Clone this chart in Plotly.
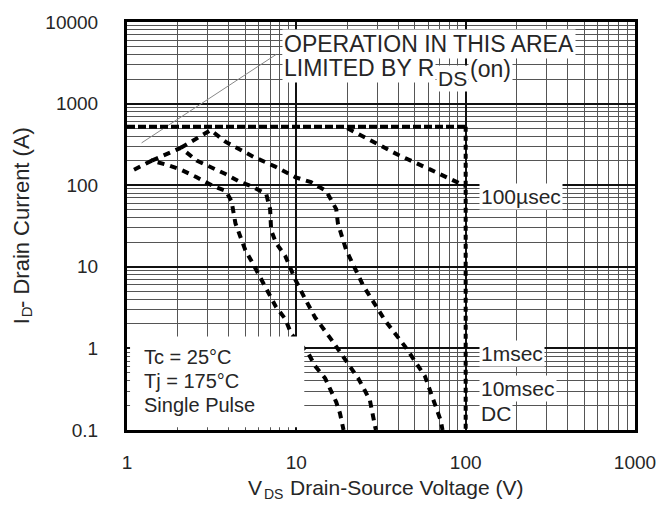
import plotly.graph_objects as go

# ---- tick labels ----
x_ticks = [1, 10, 100, 1000]
x_tick_text = ["1", "10", "100", "1000"]
y_ticks = [0.1, 1, 10, 100, 1000, 10000]
y_tick_text = ["0.1", "1", "10", "100", "1000", "10000"]

# ---- boundary: package / RDS(on) limit and max VDS ----
limit_h_v = [1, 100]
limit_h_i = [520, 520]
limit_v_v = [100, 100]
limit_v_i = [520, 0.1]

# ---- RDS(on) guide line ----
rds_v = [1.22, 7.6]
rds_i = [330, 4000]

# ---- pulse curves ----
us100_v = [20, 39.8, 62, 100]
us100_i = [500, 236, 155, 97]

curve_a_v = [1.1, 1.4, 1.72, 2.08, 2.58, 3.25, 3.83, 4.14, 4.37, 4.68, 5.0, 5.43,
             5.82, 6.4, 7.0, 7.6, 8.6, 9.35, 11.8, 12.9, 14.8, 16.1, 17.2, 18.1, 18.9, 19.0]
curve_a_i = [155, 200, 178, 155, 125, 97, 85, 64, 34, 23.6, 16, 11.8,
             9, 6.4, 4.5, 3.2, 2.3, 1.5, 0.86, 0.61, 0.43, 0.30, 0.22, 0.16, 0.11, 0.1]

curve_b_v = [1.4, 2.08, 2.58, 3.16, 3.82, 4.68, 5.43, 6.64, 7.0, 7.1, 7.6, 8.6,
             9.35, 9.85, 11.3, 12.9, 16.1, 18.4, 20.2, 23.2, 25.5, 27.2, 29.2, 29.5]
curve_b_i = [200, 287, 200, 165, 137, 109, 97, 78, 51, 28, 19.5, 13.6,
             9.2, 7, 4, 2.4, 1.28, 0.86, 0.66, 0.43, 0.30, 0.23, 0.11, 0.1]

curve_c_v = [2.08, 3.12, 3.83, 4.43, 5.58, 7.5, 9.9, 12.2, 15, 17.2, 17.6, 19.7,
             24.8, 33.4, 43.8, 57.4, 71.3, 73]
curve_c_i = [287, 473, 339, 287, 223, 169, 125, 109, 85, 51, 34, 16,
             5.9, 2.2, 1.06, 0.46, 0.13, 0.1]

FONT = "Arial, Liberation Sans, Helvetica, sans-serif"
INK = "#262626"
dash_curve = "7px,6px"

fig = go.Figure()

fig.add_trace(go.Scatter(x=rds_v, y=rds_i, mode="lines",
                         line=dict(color="#888888", width=1)))
for xs, ys in [(us100_v, us100_i), (curve_a_v, curve_a_i),
               (curve_b_v, curve_b_i), (curve_c_v, curve_c_i)]:
    fig.add_trace(go.Scatter(x=xs, y=ys, mode="lines",
                             line=dict(color="black", width=4, dash=dash_curve)))
fig.add_trace(go.Scatter(x=limit_h_v, y=limit_h_i, mode="lines",
                         line=dict(color="black", width=4, dash="8px,3px")))
fig.add_trace(go.Scatter(x=limit_v_v, y=limit_v_i, mode="lines",
                         line=dict(color="black", width=4, dash="5px,4px")))

axis_common = dict(
    type="log",
    showline=True, mirror=True, linecolor="black", linewidth=3,
    showgrid=True, gridcolor="#111111", gridwidth=1.5,
    ticks="", zeroline=False,
    tickfont=dict(family=FONT, size=19, color=INK),
    minor=dict(dtick="D1", showgrid=True, gridcolor="#555555", gridwidth=1, ticks=""),
)
fig.update_xaxes(**axis_common, range=[0, 3], tickvals=x_ticks,
                 ticktext=x_tick_text, ticklabelstandoff=13)
fig.update_yaxes(**axis_common, range=[-1, 4], tickvals=y_ticks,
                 ticktext=y_tick_text, ticklabelstandoff=22)

# white panel behind the test-condition note
fig.add_shape(type="rect", xref="paper", yref="paper",
              x0=0.006, x1=0.349, y0=0.007, y1=0.229,
              fillcolor="white", line=dict(width=0), layer="above")

ann = []


def note(text, x, y, size, xanchor="left", yanchor="middle", bg=None, angle=0):
    a = dict(text=text, x=x, y=y, xref="paper", yref="paper",
             xanchor=xanchor, yanchor=yanchor, showarrow=False,
             textangle=angle, borderpad=0 if bg is None else 1,
             font=dict(family=FONT, size=size, color=INK))
    if bg:
        a["bgcolor"] = bg
    ann.append(a)


# RDS(on) limit caption (subscript drawn as its own lowered text)
note("OPERATION IN THIS AREA", 0.306, 0.945, 23, bg="white")
note("LIMITED BY R", 0.306, 0.887, 23, bg="white")
note("DS", 0.608, 0.862, 21, bg="white")
note("(on)", 0.672, 0.884, 23, bg="white")

# test conditions
for label, yy in [("Tc = 25°C", 0.178), ("Tj = 175°C", 0.120), ("Single Pulse", 0.062)]:
    note(label, 0.031, yy, 20)

# pulse-width labels
for label, yy in [("100µsec", 0.573), ("1msec", 0.188), ("10msec", 0.101), ("DC", 0.041)]:
    note(label, 0.692, yy, 21, bg="white")

# x-axis title: V + subscript DS + rest
note("V", 0.2686, -0.142, 21, xanchor="right")
note("DS", 0.2686, -0.158, 14)
note("Drain-Source Voltage (V)", 0.3196, -0.142, 21)

# y-axis title (rotated): I + subscript D + rest
note("I", -0.2078, 0.2578, 22, xanchor="center", yanchor="bottom", angle=-90)
note("D", -0.198, 0.2735, 15, xanchor="center", yanchor="bottom", angle=-90)
note("- Drain Current (A)", -0.2078, 0.2964, 22, xanchor="center",
     yanchor="bottom", angle=-90)

fig.update_layout(annotations=ann)

fig.update_layout(
    width=668, height=508,
    margin=dict(l=127, r=31, t=15, b=78),
    paper_bgcolor="white", plot_bgcolor="white",
    showlegend=False,
)

fig.write_html("out.html")
